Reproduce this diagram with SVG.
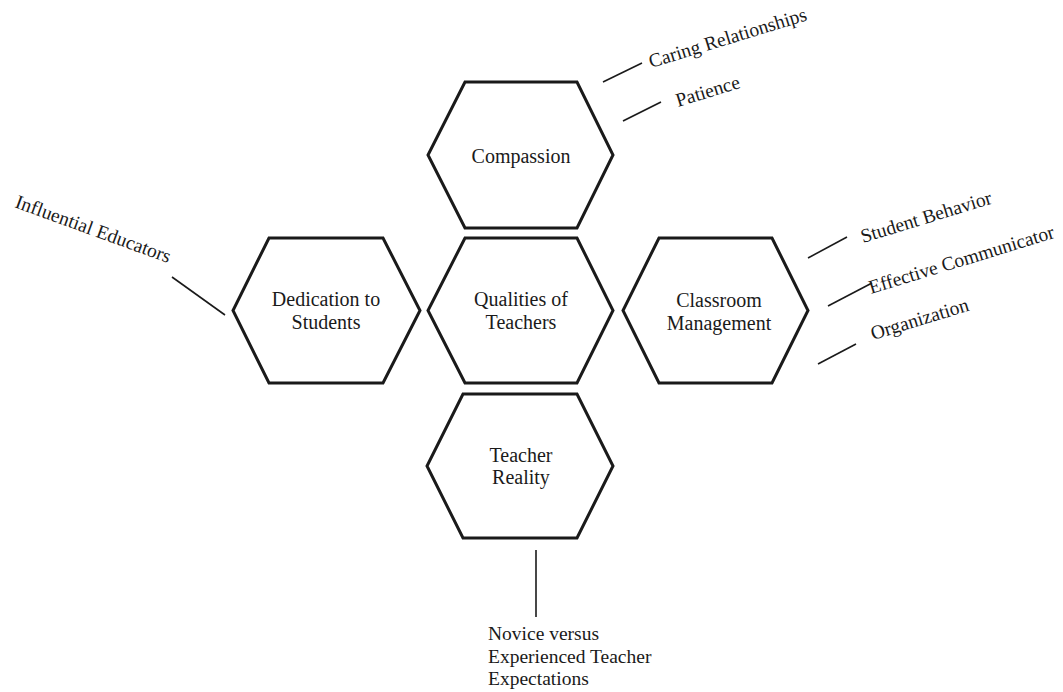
<svg xmlns="http://www.w3.org/2000/svg" width="1063" height="692" viewBox="0 0 1063 692">
<style>
.hex{fill:#fff;stroke:#1a1a1a;stroke-width:3;stroke-linejoin:miter}
.t{font-family:"Liberation Serif","Times New Roman",serif;font-size:20px;fill:#1a1a1a;text-anchor:middle}
.l{font-family:"Liberation Serif","Times New Roman",serif;font-size:19.5px;fill:#1a1a1a}
.c{stroke:#1a1a1a;stroke-width:1.6;fill:none}
</style>
<rect width="1063" height="692" fill="#fff"/>
<g id="compassion">
<polygon class="hex" points="465,82 577,82 613,155 577,228 465,228 428,155"/>
<text class="t" x="521" y="163">Compassion</text>
</g>
<g id="qualities">
<polygon class="hex" points="465,238 577,238 613,310.5 577,383 465,383 428,310.5"/>
<text class="t" x="521" y="306">Qualities of</text>
<text class="t" x="521" y="329">Teachers</text>
</g>
<g id="dedication">
<polygon class="hex" points="269,238 383,238 420,310.5 383,383 269,383 233,310.5"/>
<text class="t" x="326" y="306">Dedication to</text>
<text class="t" x="326" y="329">Students</text>
</g>
<g id="classroom">
<polygon class="hex" points="659,238 772,238 808,310.5 772,383 659,383 623,310.5"/>
<text class="t" x="719" y="307">Classroom</text>
<text class="t" x="719" y="330">Management</text>
</g>
<g id="reality">
<polygon class="hex" points="463,394 577,394 613,466 577,538 463,538 427,466"/>
<text class="t" x="521" y="462">Teacher</text>
<text class="t" x="521" y="484">Reality</text>
</g>
<g id="connectors">
<line class="c" x1="603" y1="82" x2="642" y2="63"/>
<line class="c" x1="623" y1="121" x2="661" y2="102"/>
<line class="c" x1="172" y1="277" x2="225" y2="315"/>
<line class="c" x1="808" y1="258" x2="847" y2="237"/>
<line class="c" x1="828" y1="306" x2="872" y2="283"/>
<line class="c" x1="818" y1="364" x2="856" y2="344"/>
<line class="c" x1="536" y1="550" x2="536" y2="617"/>
</g>
<g id="labels">
<text class="l" transform="translate(651,68) rotate(-17)">Caring Relationships</text>
<text class="l" transform="translate(678,107) rotate(-17)">Patience</text>
<text class="l" transform="translate(14,207) rotate(20)">Influential Educators</text>
<text class="l" transform="translate(863,243) rotate(-17)">Student Behavior</text>
<text class="l" transform="translate(871,294) rotate(-17)">Effective Communicator</text>
<text class="l" transform="translate(873,340) rotate(-17)">Organization</text>
<text class="l" x="488" y="640" font-size="20">Novice versus</text>
<text class="l" x="488" y="663" font-size="20">Experienced Teacher</text>
<text class="l" x="488" y="685" font-size="20">Expectations</text>
</g>
</svg>
